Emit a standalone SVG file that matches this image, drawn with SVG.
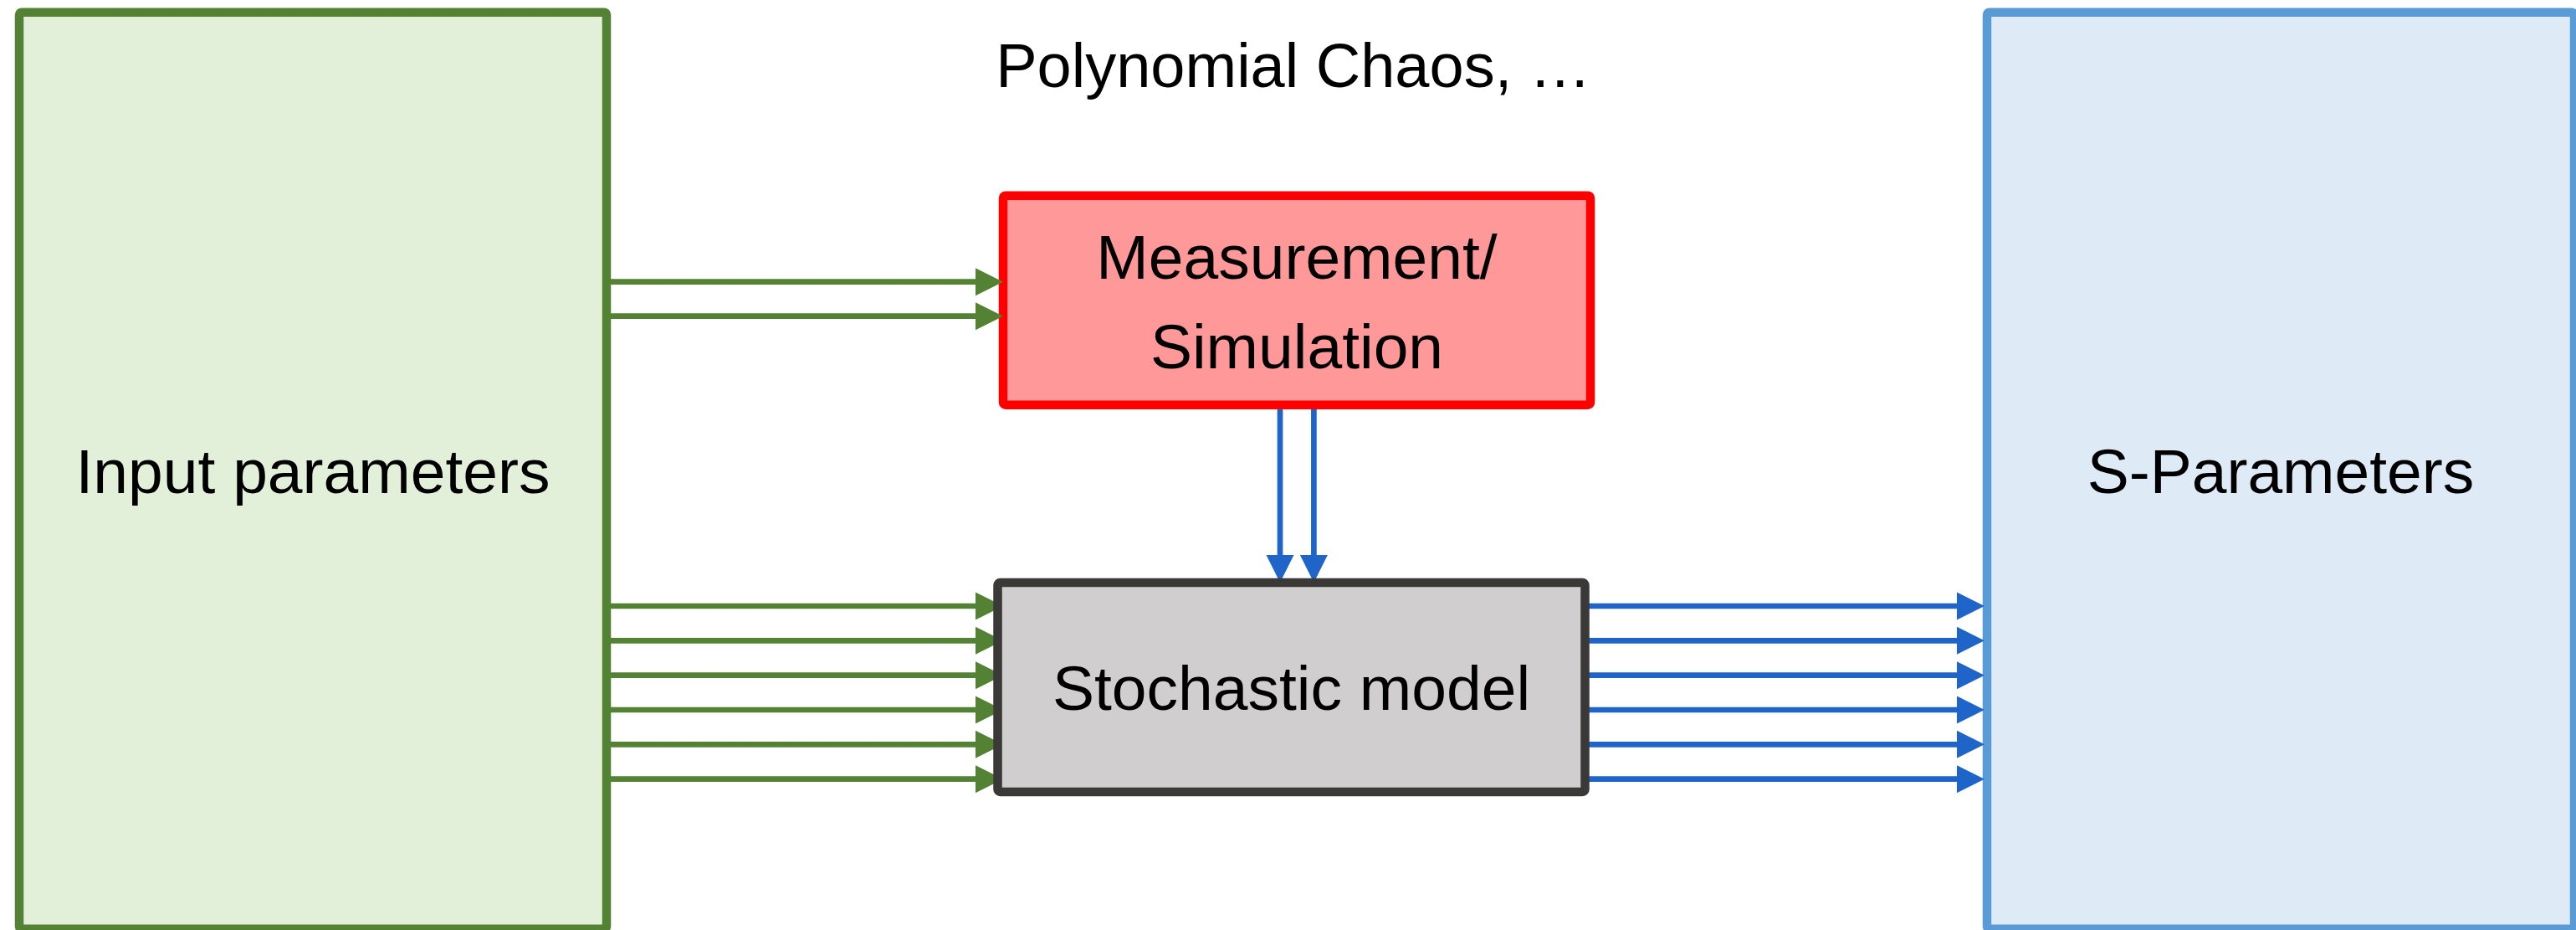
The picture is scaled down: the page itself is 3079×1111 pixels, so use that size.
<svg xmlns="http://www.w3.org/2000/svg" width="3079" height="1111" viewBox="0 0 3079 1111">
  <style>
    .label { font-family: "Liberation Sans", Arial, sans-serif; font-size: 75px; fill: #000; text-anchor: middle; }
    .box { stroke-width: 10.5; }
    .green { stroke: #548235; stroke-width: 6.7; fill: none; }
    .blue { stroke: #1F64C8; stroke-width: 6.7; fill: none; }
    .headG { fill: #548235; }
    .headB { fill: #1F64C8; }
  </style>
  <rect width="3079" height="1111" fill="#FFFFFF"/>

  <!-- Input parameters block -->
  <g id="input-parameters">
    <rect class="box" x="23" y="14.7" width="702" height="1095" rx="3" fill="#E2F0D9" stroke="#548235"/>
    <text class="label" x="374" y="589">Input parameters</text>
  </g>

  <!-- S-Parameters block -->
  <g id="s-parameters">
    <rect class="box" x="2375" y="14.7" width="702" height="1095" rx="3" fill="#DEEBF7" stroke="#5B9BD5"/>
    <text class="label" x="2726" y="589">S-Parameters</text>
  </g>

  <!-- Measurement / Simulation block -->
  <g id="measurement-simulation">
    <rect class="box" x="1199" y="233.7" width="702" height="250" rx="3" fill="#FF9999" stroke="#FF0000"/>
    <text class="label" x="1550" y="332.6">Measurement/</text>
    <text class="label" x="1550" y="439.6">Simulation</text>
  </g>

  <!-- Title above the measurement block -->
  <g id="method-label">
    <text class="label" x="1546" y="104" style="font-size:74px">Polynomial Chaos, …</text>
  </g>

  <!-- Connectors -->
  <g id="connectors">
    <!-- inputs to measurement/simulation -->
    <line class="green" x1="725" y1="336.7" x2="1167" y2="336.7"/>
    <polygon class="headG" points="1166,320.2 1199,336.7 1166,353.2"/>
    <line class="green" x1="725" y1="377.7" x2="1167" y2="377.7"/>
    <polygon class="headG" points="1166,361.2 1199,377.7 1166,394.2"/>

    <!-- inputs to stochastic model -->
    <line class="green" x1="725" y1="724" x2="1167" y2="724"/>
    <polygon class="headG" points="1166,707.5 1199,724 1166,740.5"/>
    <line class="green" x1="725" y1="765.3" x2="1167" y2="765.3"/>
    <polygon class="headG" points="1166,748.8 1199,765.3 1166,781.8"/>
    <line class="green" x1="725" y1="806.7" x2="1167" y2="806.7"/>
    <polygon class="headG" points="1166,790.2 1199,806.7 1166,823.2"/>
    <line class="green" x1="725" y1="848" x2="1167" y2="848"/>
    <polygon class="headG" points="1166,831.5 1199,848 1166,864.5"/>
    <line class="green" x1="725" y1="889.3" x2="1167" y2="889.3"/>
    <polygon class="headG" points="1166,872.8 1199,889.3 1166,905.8"/>
    <line class="green" x1="725" y1="930.7" x2="1167" y2="930.7"/>
    <polygon class="headG" points="1166,914.2 1199,930.7 1166,947.2"/>

    <!-- measurement/simulation to stochastic model -->
    <line class="blue" x1="1530" y1="489" x2="1530" y2="664"/>
    <polygon class="headB" points="1513.5,663 1530,696 1546.5,663"/>
    <line class="blue" x1="1570.4" y1="489" x2="1570.4" y2="664"/>
    <polygon class="headB" points="1553.9,663 1570.4,696 1586.9,663"/>

    <!-- stochastic model to S-parameters -->
    <line class="blue" x1="1899" y1="724" x2="2340" y2="724"/>
    <polygon class="headB" points="2339,707.5 2372,724 2339,740.5"/>
    <line class="blue" x1="1899" y1="765.3" x2="2340" y2="765.3"/>
    <polygon class="headB" points="2339,748.8 2372,765.3 2339,781.8"/>
    <line class="blue" x1="1899" y1="806.7" x2="2340" y2="806.7"/>
    <polygon class="headB" points="2339,790.2 2372,806.7 2339,823.2"/>
    <line class="blue" x1="1899" y1="848" x2="2340" y2="848"/>
    <polygon class="headB" points="2339,831.5 2372,848 2339,864.5"/>
    <line class="blue" x1="1899" y1="889.3" x2="2340" y2="889.3"/>
    <polygon class="headB" points="2339,872.8 2372,889.3 2339,905.8"/>
    <line class="blue" x1="1899" y1="930.7" x2="2340" y2="930.7"/>
    <polygon class="headB" points="2339,914.2 2372,930.7 2339,947.2"/>
  </g>

  <!-- Stochastic model block (drawn over the arrow tips) -->
  <g id="stochastic-model">
    <rect class="box" x="1192.5" y="696" width="702" height="250" rx="3" fill="#D0CECE" stroke="#3B3838"/>
    <text class="label" x="1543.5" y="848">Stochastic model</text>
  </g>
</svg>
